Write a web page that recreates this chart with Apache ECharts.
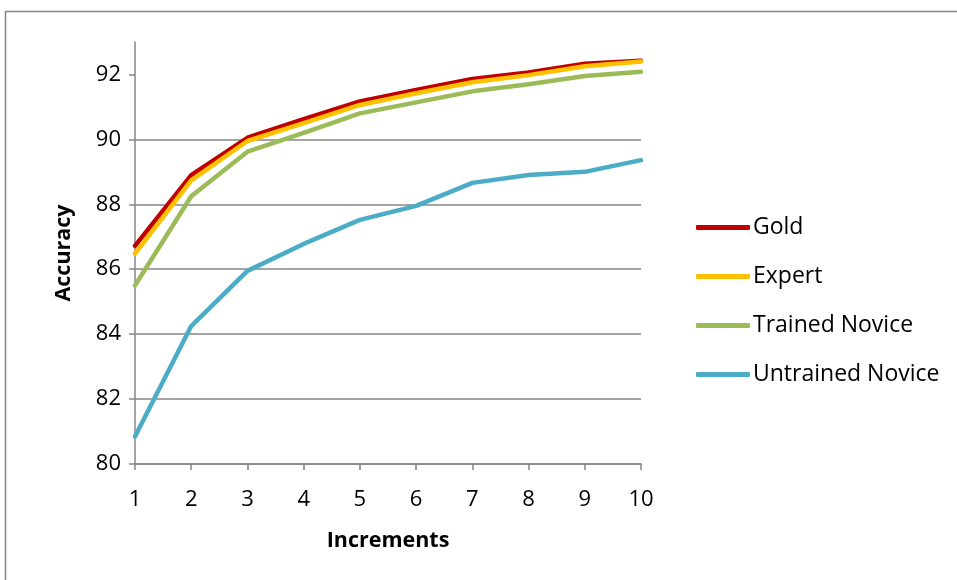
<!DOCTYPE html>
<html>
<head>
<meta charset="utf-8">
<script src="https://cdn.jsdelivr.net/npm/echarts@6/dist/echarts.min.js"></script>
<style>
  html, body { margin: 0; padding: 0; background: #fff; }
  #chart { width: 957px; height: 580px; }
</style>
</head>
<body>
<div id="chart"></div>
<script>
// Accuracy by increment for each annotator group
const increments = ['1', '2', '3', '4', '5', '6', '7', '8', '9', '10'];
const gold = [86.72, 88.9, 90.05, 90.62, 91.17, 91.52, 91.86, 92.06, 92.33, 92.42];
const expert = [86.48, 88.74, 89.95, 90.5, 91.06, 91.42, 91.76, 91.98, 92.25, 92.4];
const trainedNovice = [85.5, 88.25, 89.62, 90.2, 90.8, 91.14, 91.48, 91.7, 91.95, 92.08];
const untrainedNovice = [80.85, 84.25, 85.95, 86.78, 87.52, 87.95, 88.66, 88.9, 89.0, 89.36];
const yTicks = [80, 82, 84, 86, 88, 90, 92];

const FONT = '"Open Sans", sans-serif';
const GRID_GRAY = '#868686';

function lineSeries(name, data, color) {
  return {
    name: name,
    type: 'line',
    data: data,
    symbol: 'none',
    lineStyle: { color: color, width: 4.5, cap: 'round', join: 'round' },
    itemStyle: { color: color },
    emphasis: { disabled: true }
  };
}

const chart = echarts.init(document.getElementById('chart'), null, { renderer: 'canvas' });
chart.setOption({
  animation: false,
  backgroundColor: '#fff',
  graphic: [{
    type: 'rect',
    shape: { x: 5.5, y: 11.5, width: 1000, height: 1000 },
    style: { fill: 'none', stroke: GRID_GRAY, lineWidth: 1.5 },
    silent: true,
    z: -10
  }],
  grid: { left: 135, right: 316, top: 42, bottom: 116, containLabel: false },
  legend: {
    orient: 'vertical',
    left: 691,
    top: 211,
    itemWidth: 54,
    itemHeight: 5,
    itemGap: 26,
    icon: 'roundRect',
    textStyle: { fontFamily: FONT, fontSize: 23, color: '#000', padding: [0, 0, 0, -2] },
    data: ['Gold', 'Expert', 'Trained Novice', 'Untrained Novice']
  },
  xAxis: {
    type: 'category',
    data: increments,
    boundaryGap: false,
    name: 'Increments',
    nameLocation: 'middle',
    nameGap: 66,
    nameTextStyle: { fontFamily: FONT, fontSize: 21.5, fontWeight: 'bold', color: '#000' },
    axisLine: { lineStyle: { color: GRID_GRAY, width: 1.5 } },
    axisTick: { show: true, length: 6, alignWithLabel: true, lineStyle: { color: GRID_GRAY, width: 1.5 } },
    axisLabel: { fontFamily: FONT, fontSize: 22, color: '#000', margin: 25 },
    splitLine: { show: false }
  },
  yAxis: {
    type: 'value',
    min: 80,
    max: 93,
    interval: 2,
    name: 'Accuracy',
    nameLocation: 'middle',
    nameGap: 60,
    nameTextStyle: { fontFamily: FONT, fontSize: 21.5, fontWeight: 'bold', color: '#000' },
    axisLine: { show: true, lineStyle: { color: GRID_GRAY, width: 1.5 } },
    axisTick: { show: true, length: 6, customValues: yTicks, lineStyle: { color: GRID_GRAY, width: 1.5 } },
    axisLabel: { fontFamily: FONT, fontSize: 22, color: '#000', margin: 14, customValues: yTicks },
    splitLine: { show: true, showMaxLine: false, lineStyle: { color: GRID_GRAY, width: 1.5 } }
  },
  series: [
    lineSeries('Gold', gold, '#C00000'),
    lineSeries('Expert', expert, '#FFC000'),
    lineSeries('Trained Novice', trainedNovice, '#9BBB59'),
    lineSeries('Untrained Novice', untrainedNovice, '#4BACC6')
  ]
});
</script>
</body>
</html>
